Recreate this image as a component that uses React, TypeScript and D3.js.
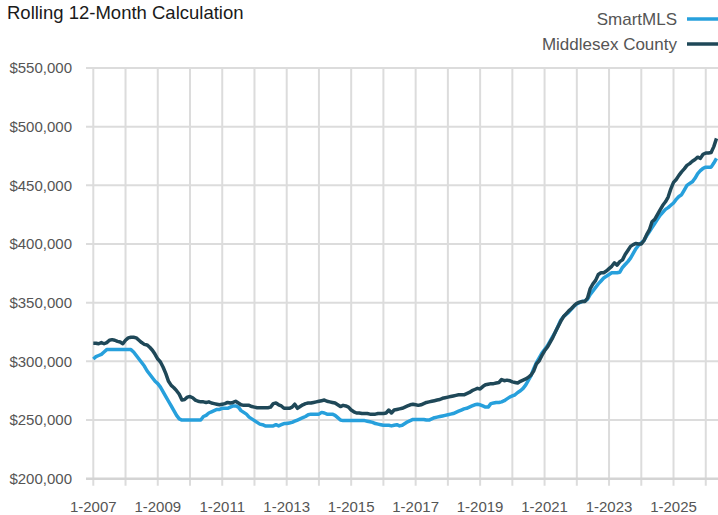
import React, { useEffect, useRef } from "react";
import * as d3 from "d3";

// monthly values in $ thousands, starting Jan 2007
const startYear = 2007;

const smartMLS = [
  302, 304, 305, 306, 308, 310, 310, 310, 310, 310, 310, 310, // 2007
  310, 310, 310, 308, 305, 302, 299, 296, 292, 289, 286, 283, // 2008
  281, 278, 274, 270, 266, 262, 258, 254, 251, 250, 250, 250, // 2009
  250, 250, 250, 250, 250, 253, 254, 256, 257, 258, 259, 259, // 2010
  260, 260, 260, 261, 262, 262, 261, 258, 256.5, 255, 252.5, 251, // 2011
  249.5, 248, 246.5, 246, 245, 245, 245, 245, 246, 245, 246, 247, // 2012
  247, 247.5, 248, 249, 250, 251, 252, 253, 254.5, 255, 255, 255, // 2013
  255, 256.5, 256, 255, 255, 255, 254, 252, 250, 249.5, 249.5, 249.5, // 2014
  249.5, 249.5, 249.5, 249.5, 249.5, 249.5, 249, 248.5, 248, 247, 246.5, 246, // 2015
  245.5, 245.5, 245.5, 245, 245.5, 246, 245, 245.5, 247, 248.5, 249.5, 250.5, // 2016
  250.5, 250.5, 250.5, 250.5, 250, 250, 251, 252, 252.5, 253, 253.5, 254, // 2017
  254.5, 255, 255.5, 256.5, 257.5, 258.5, 259.5, 260, 261, 262, 263, 263.5, // 2018
  263, 262, 261, 261, 264, 264.5, 265, 265, 265.5, 266.5, 268, 269.5, // 2019
  270.5, 271.5, 273.5, 275, 277, 280, 284, 288, 294, 299, 303, 307, // 2020
  310, 313, 317, 321, 325, 330, 335, 338, 340, 342, 344.5, 347, // 2021
  349, 350, 351, 351.5, 353, 357, 360, 363, 366, 368.5, 371, 372.5, // 2022
  374, 375.5, 375.5, 375.5, 376, 380, 382.5, 385, 388, 392, 396, 399, // 2023
  401, 403, 407, 410.5, 414, 417.5, 421, 424.5, 427, 429.5, 431, 433, // 2024
  435, 438, 440.5, 442, 446, 450, 451.5, 453, 456, 460, 462.5, 464.5, // 2025
  465.5, 465.5, 465.5, 469, 473, // 2026
];

const middlesex = [
  315.5, 315.5, 315, 316, 315, 316, 318, 318.5, 318, 317, 316.5, 315, // 2007
  318, 320, 320.5, 320.5, 320, 318, 316, 314.5, 314, 312, 309.5, 306, // 2008
  302, 299.5, 295, 289.5, 283, 279.5, 277.5, 275, 272, 267, 267.5, 269.5, // 2009
  270, 269, 267, 266, 265.5, 265.5, 265, 265.5, 264.5, 264, 263.5, 263, // 2010
  263.5, 264, 265, 264.5, 265, 266, 264.5, 263, 262.5, 262.5, 262.5, 261.5, // 2011
  261, 260.5, 260.5, 260.5, 260.5, 260.5, 261, 264, 264.5, 263, 262, 260, // 2012
  260, 260, 261, 263.5, 260, 261.5, 263, 264, 264.5, 264.5, 265, 265.5, // 2013
  266, 266.5, 267, 266, 265.5, 265, 264.5, 263, 261.5, 262.5, 262, 261, // 2014
  258.5, 257, 256, 256, 255.5, 255.5, 255.5, 255, 255, 255, 255.5, 255.5, // 2015
  255.5, 256, 258.5, 256, 258.5, 259, 259.5, 260, 261, 262, 263, 263.5, // 2016
  263, 262.5, 263, 264, 265, 265.5, 266, 266.5, 267, 267.5, 268.5, 269, // 2017
  269.5, 270, 270.5, 271, 271.5, 271.5, 271.5, 272.5, 273.5, 275, 276, 277, // 2018
  276.5, 278.5, 280, 280.5, 281, 281, 281.5, 282, 284.5, 283.5, 284, 283.5, // 2019
  282.5, 282, 281.5, 283, 284, 285, 286.5, 288.5, 292, 298, 300.5, 305, // 2020
  309, 312, 316, 320, 325, 329.5, 334, 338, 340.5, 343, 345, 347.5, // 2021
  349.5, 350.5, 351, 351, 354, 362, 366, 369, 374, 375.5, 375.5, 377, // 2022
  379, 381, 384, 382, 385, 386.5, 391, 394.5, 398, 399.5, 400.5, 400, // 2023
  400, 403, 408, 412, 419, 421, 425, 429, 433, 436, 440, 447, // 2024
  452.5, 455, 458.5, 461.5, 464, 467, 468.5, 470.5, 472, 474, 473, 476.5, // 2025
  477.5, 477.5, 478, 483, 490, // 2026
];

const yTicks = [200000, 250000, 300000, 350000, 400000, 450000, 500000, 550000];
const gridYears = [
  2007, 2008, 2009, 2010, 2011, 2012, 2013, 2014, 2015, 2016,
  2017, 2018, 2019, 2020, 2021, 2022, 2023, 2024, 2025, 2026,
];
const labelYears = [2007, 2009, 2011, 2013, 2015, 2017, 2019, 2021, 2023, 2025];

const seriesNames = ["SmartMLS", "Middlesex County"];
const seriesColors = ["#27a0dc", "#1f4858"];

const FONT = "'Liberation Sans', Arial, Helvetica, sans-serif";

const App = () => {
  const chartRef = useRef<SVGSVGElement>(null);

  useEffect(() => {
    const width = 718;
    const height = 515;
    const left = 86;
    const right = 718;

    const svg = d3.select(chartRef.current);
    svg.selectAll("*").remove();
    svg.attr("width", width).attr("height", height);

    const lastT = startYear + (smartMLS.length - 1) / 12;
    const x = d3.scaleLinear().domain([startYear, lastT]).range([93.3, 716.5]);
    const y = d3.scaleLinear().domain([200000, 550000]).range([478.7, 68]);

    // horizontal grid
    svg
      .append("g")
      .selectAll("line")
      .data(yTicks.slice(1))
      .enter()
      .append("line")
      .attr("x1", left)
      .attr("x2", right)
      .attr("y1", (d) => y(d))
      .attr("y2", (d) => y(d))
      .attr("stroke", "#dcdcdc")
      .attr("stroke-width", 2);

    // vertical grid + ticks
    svg
      .append("g")
      .selectAll("line")
      .data(gridYears)
      .enter()
      .append("line")
      .attr("x1", (d) => x(d))
      .attr("x2", (d) => x(d))
      .attr("y1", y(550000))
      .attr("y2", y(200000) + 7)
      .attr("stroke", "#dcdcdc")
      .attr("stroke-width", 2);

    // x axis line
    svg
      .append("line")
      .attr("x1", left)
      .attr("x2", right)
      .attr("y1", y(200000))
      .attr("y2", y(200000))
      .attr("stroke", "#d4d4d4")
      .attr("stroke-width", 2.5);

    // y labels
    svg
      .append("g")
      .selectAll("text")
      .data(yTicks)
      .enter()
      .append("text")
      .attr("x", 72)
      .attr("y", (d) => y(d))
      .attr("dy", "0.35em")
      .attr("text-anchor", "end")
      .style("font-family", FONT)
      .style("font-size", "15px")
      .style("fill", "#555")
      .text((d) => "$" + d3.format(",")(d));

    // x labels
    svg
      .append("g")
      .selectAll("text")
      .data(labelYears)
      .enter()
      .append("text")
      .attr("x", (d) => x(d))
      .attr("y", 512)
      .attr("text-anchor", "middle")
      .style("font-family", FONT)
      .style("font-size", "15px")
      .style("fill", "#555")
      .text((d) => "1-" + d);

    const line = d3
      .line<number>()
      .x((d, i) => x(startYear + i / 12))
      .y((d) => y(d * 1000));

    [smartMLS, middlesex].forEach((s, k) => {
      svg
        .append("path")
        .datum(s)
        .attr("d", line)
        .attr("fill", "none")
        .attr("stroke", seriesColors[k])
        .attr("stroke-width", 3.5)
        .attr("stroke-linejoin", "round");
    });

    // title
    svg
      .append("text")
      .attr("x", 7)
      .attr("y", 19)
      .style("font-family", FONT)
      .style("font-size", "18.5px")
      .style("fill", "#1a1a1a")
      .text("Rolling 12-Month Calculation");

    // legend
    seriesNames.forEach((name, k) => {
      const ly = 19 + k * 25;
      svg
        .append("text")
        .attr("x", 677)
        .attr("y", ly)
        .attr("dy", "0.35em")
        .attr("text-anchor", "end")
        .style("font-family", FONT)
        .style("font-size", "17px")
        .style("fill", "#555")
        .text(name);
      svg
        .append("line")
        .attr("x1", 687)
        .attr("x2", 718)
        .attr("y1", ly)
        .attr("y2", ly)
        .attr("stroke", seriesColors[k])
        .attr("stroke-width", 3.5);
    });
  }, []);

  return <svg ref={chartRef} style={{ position: "absolute", left: 0, top: 0 }}></svg>;
};

export default App;
